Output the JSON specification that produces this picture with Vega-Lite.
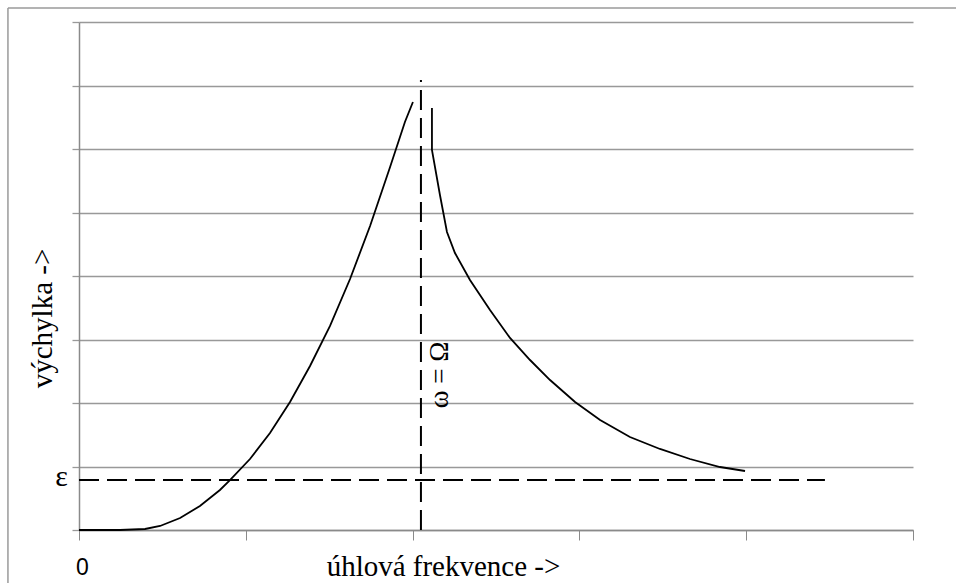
{
  "$schema": "https://vega.github.io/schema/vega-lite/v6.json",
  "width": 834,
  "height": 508,
  "autosize": "none",
  "padding": {"left": 79, "top": 22, "right": 43, "bottom": 53},
  "background": "white",
  "config": {"view": {"stroke": null}, "font": "Liberation Serif"},
  "encoding": {
    "x": {
      "field": "x", "type": "quantitative",
      "scale": {"domain": [0, 5], "nice": false, "zero": false},
      "axis": {
        "values": [0, 1, 2, 3, 4, 5],
        "grid": false,
        "domainColor": "#8a8a8a", "domainWidth": 1.5,
        "tickColor": "#8a8a8a", "tickSize": 10, "tickWidth": 1,
        "labelExpr": "datum.value == 0 ? '0' : ''",
        "labelFont": "Liberation Sans", "labelFontSize": 23, "labelColor": "#000",
        "labelPadding": 16, "labelAlign": "center", "labelOffset": 3,
        "title": "úhlová frekvence ->",
        "titleFont": "Liberation Serif", "titleFontSize": 29, "titleFontWeight": "normal",
        "titleColor": "#000", "titleAnchor": "start", "titleAlign": "center",
        "titleX": 364, "titleY": 36, "titleBaseline": "middle"
      }
    },
    "y": {
      "field": "y", "type": "quantitative",
      "scale": {"domain": [0, 8], "nice": false, "zero": false},
      "axis": {
        "values": [0, 1, 2, 3, 4, 5, 6, 7, 8],
        "grid": true, "gridColor": "#999999", "gridWidth": 1.3,
        "domainColor": "#8a8a8a", "domainWidth": 1.5,
        "tickColor": "#999999", "tickSize": 7, "tickWidth": 1.3,
        "labels": false,
        "title": "výchylka ->",
        "titleFont": "Liberation Serif", "titleFontSize": 29, "titleFontWeight": "normal",
        "titleColor": "#000", "titleAngle": -90, "titleAnchor": "start", "titleAlign": "center",
        "titleX": -37, "titleY": 296, "titleBaseline": "middle"
      }
    }
  },
  "layer": [
    {
      "data": {"values": [
        {"x": -0.426, "x2": 5.4, "y": 8.22, "y2": 8.22},
        {"x": -0.426, "x2": -0.426, "y": 8.22, "y2": -1.0}
      ]},
      "mark": {"type": "rule", "color": "#9a9a9a", "strokeWidth": 1.5, "clip": false},
      "encoding": {"x2": {"field": "x2"}, "y2": {"field": "y2"}}
    },
    {
      "data": {"values": [
        {"b": "L", "i": 0, "x": 0, "y": 0},
        {"b": "L", "i": 1, "x": 0.126, "y": 0},
        {"b": "L", "i": 2, "x": 0.246, "y": 0},
        {"b": "L", "i": 3, "x": 0.396, "y": 0.016},
        {"b": "L", "i": 4, "x": 0.486, "y": 0.063},
        {"b": "L", "i": 5, "x": 0.606, "y": 0.189},
        {"b": "L", "i": 6, "x": 0.725, "y": 0.378},
        {"b": "L", "i": 7, "x": 0.845, "y": 0.63},
        {"b": "L", "i": 8, "x": 0.905, "y": 0.787},
        {"b": "L", "i": 9, "x": 1.025, "y": 1.118},
        {"b": "L", "i": 10, "x": 1.145, "y": 1.528},
        {"b": "L", "i": 11, "x": 1.265, "y": 2.016},
        {"b": "L", "i": 12, "x": 1.385, "y": 2.583},
        {"b": "L", "i": 13, "x": 1.505, "y": 3.213},
        {"b": "L", "i": 14, "x": 1.625, "y": 3.953},
        {"b": "L", "i": 15, "x": 1.745, "y": 4.787},
        {"b": "L", "i": 16, "x": 1.865, "y": 5.717},
        {"b": "L", "i": 17, "x": 1.954, "y": 6.425},
        {"b": "L", "i": 18, "x": 2.002, "y": 6.74},
        {"b": "R", "i": 0, "x": 2.116, "y": 6.646},
        {"b": "R", "i": 1, "x": 2.116, "y": 5.984},
        {"b": "R", "i": 2, "x": 2.164, "y": 5.276},
        {"b": "R", "i": 3, "x": 2.206, "y": 4.693},
        {"b": "R", "i": 4, "x": 2.254, "y": 4.362},
        {"b": "R", "i": 5, "x": 2.344, "y": 3.937},
        {"b": "R", "i": 6, "x": 2.464, "y": 3.465},
        {"b": "R", "i": 7, "x": 2.584, "y": 3.024},
        {"b": "R", "i": 8, "x": 2.704, "y": 2.677},
        {"b": "R", "i": 9, "x": 2.824, "y": 2.362},
        {"b": "R", "i": 10, "x": 2.974, "y": 2.016},
        {"b": "R", "i": 11, "x": 3.124, "y": 1.732},
        {"b": "R", "i": 12, "x": 3.303, "y": 1.465},
        {"b": "R", "i": 13, "x": 3.483, "y": 1.276},
        {"b": "R", "i": 14, "x": 3.663, "y": 1.118},
        {"b": "R", "i": 15, "x": 3.843, "y": 0.992},
        {"b": "R", "i": 16, "x": 3.993, "y": 0.929}
      ]},
      "mark": {"type": "line", "color": "#000", "strokeWidth": 1.8, "interpolate": "linear"},
      "encoding": {"detail": {"field": "b"}, "order": {"field": "i", "type": "quantitative"}}
    },
    {
      "data": {"values": [
        {"x": 0, "x2": 4.472, "y": 0.787, "y2": 0.787},
        {"x": 2.05, "x2": 2.05, "y": 0, "y2": 7.087}
      ]},
      "mark": {"type": "rule", "color": "#000", "strokeWidth": 2, "strokeDash": [20, 8]},
      "encoding": {"x2": {"field": "x2"}, "y2": {"field": "y2"}}
    },
    {
      "data": {"values": [{"x": 2.165, "y": 2.44, "t": "ω = Ω"}]},
      "mark": {"type": "text", "angle": -90, "font": "Liberation Serif", "fontSize": 27, "color": "#000", "align": "center", "baseline": "middle"},
      "encoding": {"text": {"field": "t"}}
    },
    {
      "data": {"values": [{"x": -0.105, "y": 0.83, "t": "ε"}]},
      "mark": {"type": "text", "font": "Liberation Serif", "fontSize": 30, "color": "#000", "align": "center", "baseline": "middle", "clip": false},
      "encoding": {"text": {"field": "t"}}
    }
  ]
}
